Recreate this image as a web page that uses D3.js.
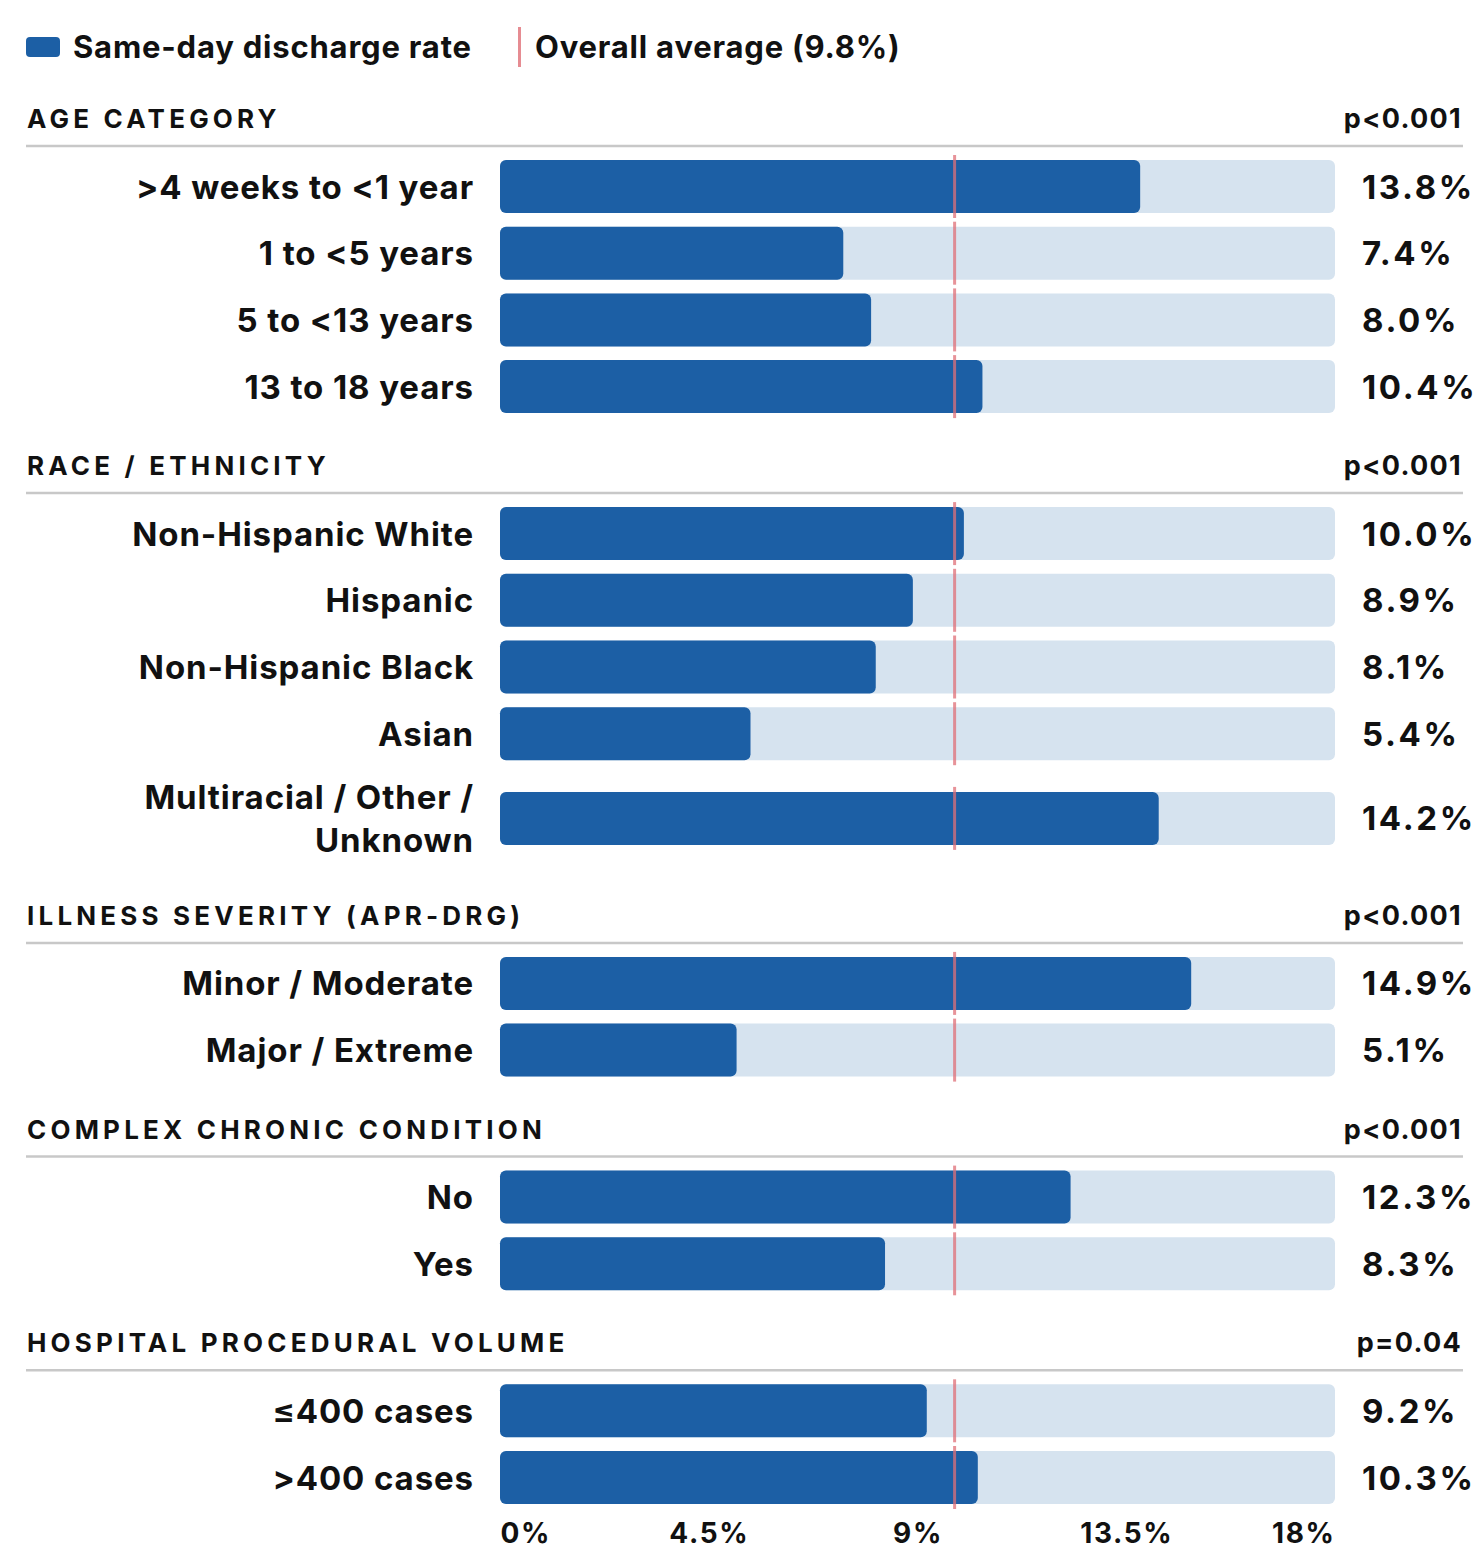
<!DOCTYPE html>
<html>
<head>
<meta charset="utf-8">
<script src="https://cdn.jsdelivr.net/npm/d3@7"></script>
<style>
  body { margin: 0; background: #fff; }
  svg { font-family: Inter, "Noto Sans", sans-serif; }
</style>
</head>
<body>
<svg width="1481" height="1550"></svg>
<script>
// section headers and their p values
var sectionNames = ["AGE CATEGORY", "RACE / ETHNICITY", "ILLNESS SEVERITY (APR-DRG)", "COMPLEX CHRONIC CONDITION", "HOSPITAL PROCEDURAL VOLUME"];
var sectionPValues = ["p<0.001", "p<0.001", "p<0.001", "p<0.001", "p=0.04"];

// row labels per section ("\n" splits a label onto two lines)
var ageLabels = [">4 weeks to <1 year", "1 to <5 years", "5 to <13 years", "13 to 18 years"];
var raceLabels = ["Non-Hispanic White", "Hispanic", "Non-Hispanic Black", "Asian", "Multiracial / Other /\nUnknown"];
var severityLabels = ["Minor / Moderate", "Major / Extreme"];
var chronicLabels = ["No", "Yes"];
var volumeLabels = ["\u2264400 cases", ">400 cases"];

// same-day discharge rate, %
var ageValues = [13.8, 7.4, 8.0, 10.4];
var raceValues = [10.0, 8.9, 8.1, 5.4, 14.2];
var severityValues = [14.9, 5.1];
var chronicValues = [12.3, 8.3];
var volumeValues = [9.2, 10.3];

var overallAverage = 9.8;
var tickValues = [0, 4.5, 9, 13.5, 18];

var sectionLabels = [ageLabels, raceLabels, severityLabels, chronicLabels, volumeLabels];
var sectionValues = [ageValues, raceValues, severityValues, chronicValues, volumeValues];

var barColor = "#1c5fa5";
var trackColor = "#d6e3ef";
var avgColor = "#e07078";

let barLeft = 500, barRight = 1335;
let barHeight = 53, rowPitch = 66.7, tallExtra = 36;

var x = d3.scaleLinear([0, 18], [barLeft, barRight]);
var svg = d3.select("svg");

// legend
var legend = svg.append("g");
legend.append("rect").attr("x", 26).attr("y", 37).attr("width", 34).attr("height", 20).attr("rx", 4).attr("fill", barColor);
legend.append("text").attr("x", 73).attr("y", 58).attr("font-size", 31).attr("font-weight", 700).attr("letter-spacing", 0.8).attr("fill", "#111").text("Same-day discharge rate");
legend.append("line").attr("x1", 519.5).attr("x2", 519.5).attr("y1", 27).attr("y2", 67).attr("stroke", avgColor).attr("stroke-width", 3).attr("opacity", 0.8);
legend.append("text").attr("x", 535).attr("y", 58).attr("font-size", 31).attr("font-weight", 700).attr("letter-spacing", 0.8).attr("fill", "#111").text("Overall average (" + overallAverage + "%)");

var lineY = 146;
sectionNames.forEach(function(name, s) {
    var g = svg.append("g");
    g.append("text")
        .attr("x", 27).attr("y", lineY - 18)
        .attr("font-size", 26).attr("font-weight", 700).attr("letter-spacing", 4.2)
        .attr("fill", "#111").text(name);
    g.append("text")
        .attr("x", 1462).attr("y", lineY - 18).attr("text-anchor", "end")
        .attr("font-size", 27).attr("font-weight", 700).attr("letter-spacing", 1.3)
        .attr("fill", "#111").text(sectionPValues[s]);
    g.append("line")
        .attr("x1", 26).attr("x2", 1463).attr("y1", lineY).attr("y2", lineY)
        .attr("stroke", "#c8c8c8").attr("stroke-width", 2.5);

    // row centres
    var rows = [];
    var cy = lineY + 14 + barHeight / 2;
    sectionLabels[s].forEach(function(label, i) {
        var tall = label.indexOf("\n") >= 0;
        if (tall) cy += tallExtra / 2;
        rows.push({ label: label, value: sectionValues[s][i], cy: cy });
        cy += rowPitch + (tall ? tallExtra / 2 : 0);
    });

    var row = g.selectAll("g.row").data(rows).enter().append("g").attr("class", "row");
    row.append("rect")
        .attr("x", x(0)).attr("y", function(d) { return d.cy - barHeight / 2; })
        .attr("width", x(18) - x(0)).attr("height", barHeight).attr("rx", 6)
        .attr("fill", trackColor);
    row.append("rect")
        .attr("x", x(0)).attr("y", function(d) { return d.cy - barHeight / 2; })
        .attr("width", function(d) { return x(d.value) - x(0); }).attr("height", barHeight).attr("rx", 6)
        .attr("fill", barColor);
    row.append("line")
        .attr("x1", x(overallAverage)).attr("x2", x(overallAverage))
        .attr("y1", function(d) { return d.cy - barHeight / 2 - 5; })
        .attr("y2", function(d) { return d.cy + barHeight / 2 + 5; })
        .attr("stroke", avgColor).attr("stroke-width", 3).attr("opacity", 0.75);
    row.append("text")
        .attr("x", 474).attr("text-anchor", "end")
        .attr("font-size", 33).attr("font-weight", 700).attr("letter-spacing", 0.9).attr("fill", "#111")
        .each(function(d) {
            var lines = d.label.split("\n");
            var t = d3.select(this);
            lines.forEach(function(l, k) {
                t.append("tspan").attr("x", 474)
                    .attr("y", d.cy + 12 + (k - (lines.length - 1) / 2) * 43)
                    .text(l);
            });
        });
    row.append("text")
        .attr("x", 1362).attr("y", function(d) { return d.cy + 12; })
        .attr("font-size", 33).attr("font-weight", 700).attr("letter-spacing", 2.6)
        .attr("fill", "#111")
        .text(function(d) { return d.value.toFixed(1) + "%"; });

    lineY = cy - rowPitch + barHeight / 2 + 80;
});

// axis
var axis = d3.axisBottom(x).tickValues(tickValues).tickSize(0).tickPadding(0)
    .tickFormat(function(d) { return d + "%"; });
var axisG = svg.append("g")
    .attr("transform", "translate(0," + 1523 + ")")
    .call(axis);
axisG.select(".domain").remove();
axisG.selectAll("text")
    .attr("font-size", 28).attr("font-weight", 700).attr("letter-spacing", 1.6)
    .attr("font-family", "Inter, 'Noto Sans', sans-serif").attr("fill", "#111")
    .attr("text-anchor", function(d, i) { return i == 0 ? "start" : (i == tickValues.length - 1 ? "end" : "middle"); });
</script>
</body>
</html>
